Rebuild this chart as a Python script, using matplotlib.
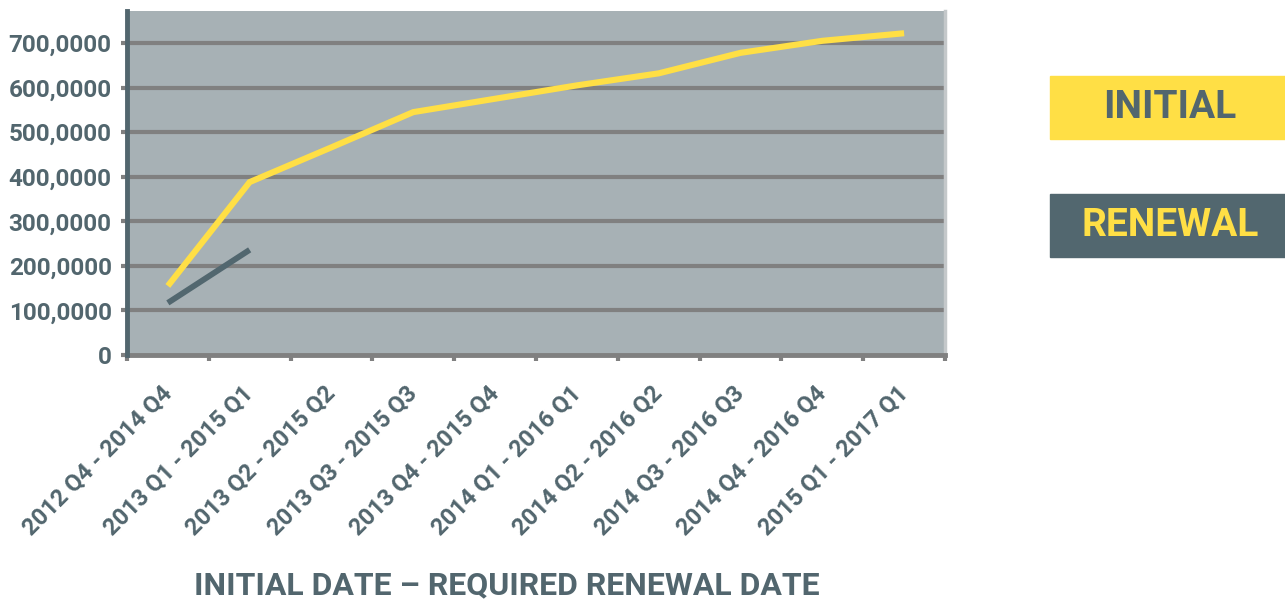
import matplotlib
matplotlib.use("Agg")
import matplotlib.pyplot as plt
from matplotlib.patches import Rectangle

plt.rcParams['font.family'] = ['Roboto', 'DejaVu Sans']
plt.rcParams['font.weight'] = 'bold'

periods = ["2012 Q4 - 2014 Q4", "2013 Q1 - 2015 Q1", "2013 Q2 - 2015 Q2",
           "2013 Q3 - 2015 Q3", "2013 Q4 - 2015 Q4", "2014 Q1 - 2016 Q1",
           "2014 Q2 - 2016 Q2", "2014 Q3 - 2016 Q3", "2014 Q4 - 2016 Q4",
           "2015 Q1 - 2017 Q1"]
initial = [155000, 388000, 466000, 545000, 575000, 605000, 632000, 678000, 705000, 722000]
renewal = [117000, 236000]
y_ticks = [0, 100000, 200000, 300000, 400000, 500000, 600000, 700000]
y_labels = ["0", "100,0000", "200,0000", "300,0000", "400,0000",
            "500,0000", "600,0000", "700,0000"]

YELLOW = "#FFDF45"
SLATE = "#52676F"
TEXT = "#52666E"
GRID = "#808080"
BG = "#A7B1B5"

fig = plt.figure(figsize=(12.85, 6), dpi=100)
ax = fig.add_axes([0.0988, 0.4083, 0.6366, 0.5733])
ax.set_facecolor(BG)

x = list(range(len(periods)))
ax.plot(x, initial, color=YELLOW, lw=4.4, solid_capstyle='butt', solid_joinstyle='miter', zorder=4)
ax.plot(x[:len(renewal)], renewal, color=SLATE, lw=4.2, solid_capstyle='butt', zorder=3)

ax.set_xlim(-0.5, len(periods) - 0.5)
ax.set_ylim(0, 771800)

ax.set_yticks(y_ticks)
ax.set_yticklabels(y_labels)
for y in y_ticks[1:]:
    ax.axhline(y, color=GRID, lw=3.0, zorder=2)

ax.set_xticks([i - 0.5 for i in range(len(periods) + 1)])
ax.set_xticklabels([])
ax.set_xticks(x, minor=True)
ax.set_xticklabels(periods, minor=True, rotation=45, ha='right', va='center',
                   rotation_mode='anchor', fontsize=17, color=TEXT)
ax.tick_params(axis='x', which='minor', length=0, pad=25)
ax.tick_params(axis='x', which='major', length=4, width=3, color=GRID)
ax.tick_params(axis='y', length=4, width=3, color=GRID, labelsize=17.5,
               labelcolor=TEXT, pad=7)

ax.spines['top'].set_visible(False)
ax.spines['right'].set_color("#C4C8CA")
ax.spines['right'].set_linewidth(2.5)
ax.spines['left'].set_color(TEXT)
ax.spines['left'].set_linewidth(3.5)
ax.spines['left'].set_zorder(5)
ax.spines['bottom'].set_color(GRID)
ax.spines['bottom'].set_linewidth(3.5)

fig.text(507 / 1285, 1 - 585 / 600, "INITIAL DATE \u2013 REQUIRED RENEWAL DATE",
         ha='center', va='center', fontsize=23, color=TEXT)

# legend boxes
fig.patches.append(Rectangle((1050 / 1285, 1 - 139 / 600), 235 / 1285, 63 / 600,
                             transform=fig.transFigure, color=YELLOW))
fig.patches.append(Rectangle((1050 / 1285, 1 - 257 / 600), 235 / 1285, 63 / 600,
                             transform=fig.transFigure, color=SLATE))
fig.text(1170 / 1285, 1 - 107.5 / 600, "INITIAL", ha='center', va='center',
         fontsize=28, color=TEXT)
fig.text(1170 / 1285, 1 - 225.5 / 600, "RENEWAL", ha='center', va='center',
         fontsize=28, color=YELLOW)

fig.savefig("out.png", dpi=100, facecolor="white")
